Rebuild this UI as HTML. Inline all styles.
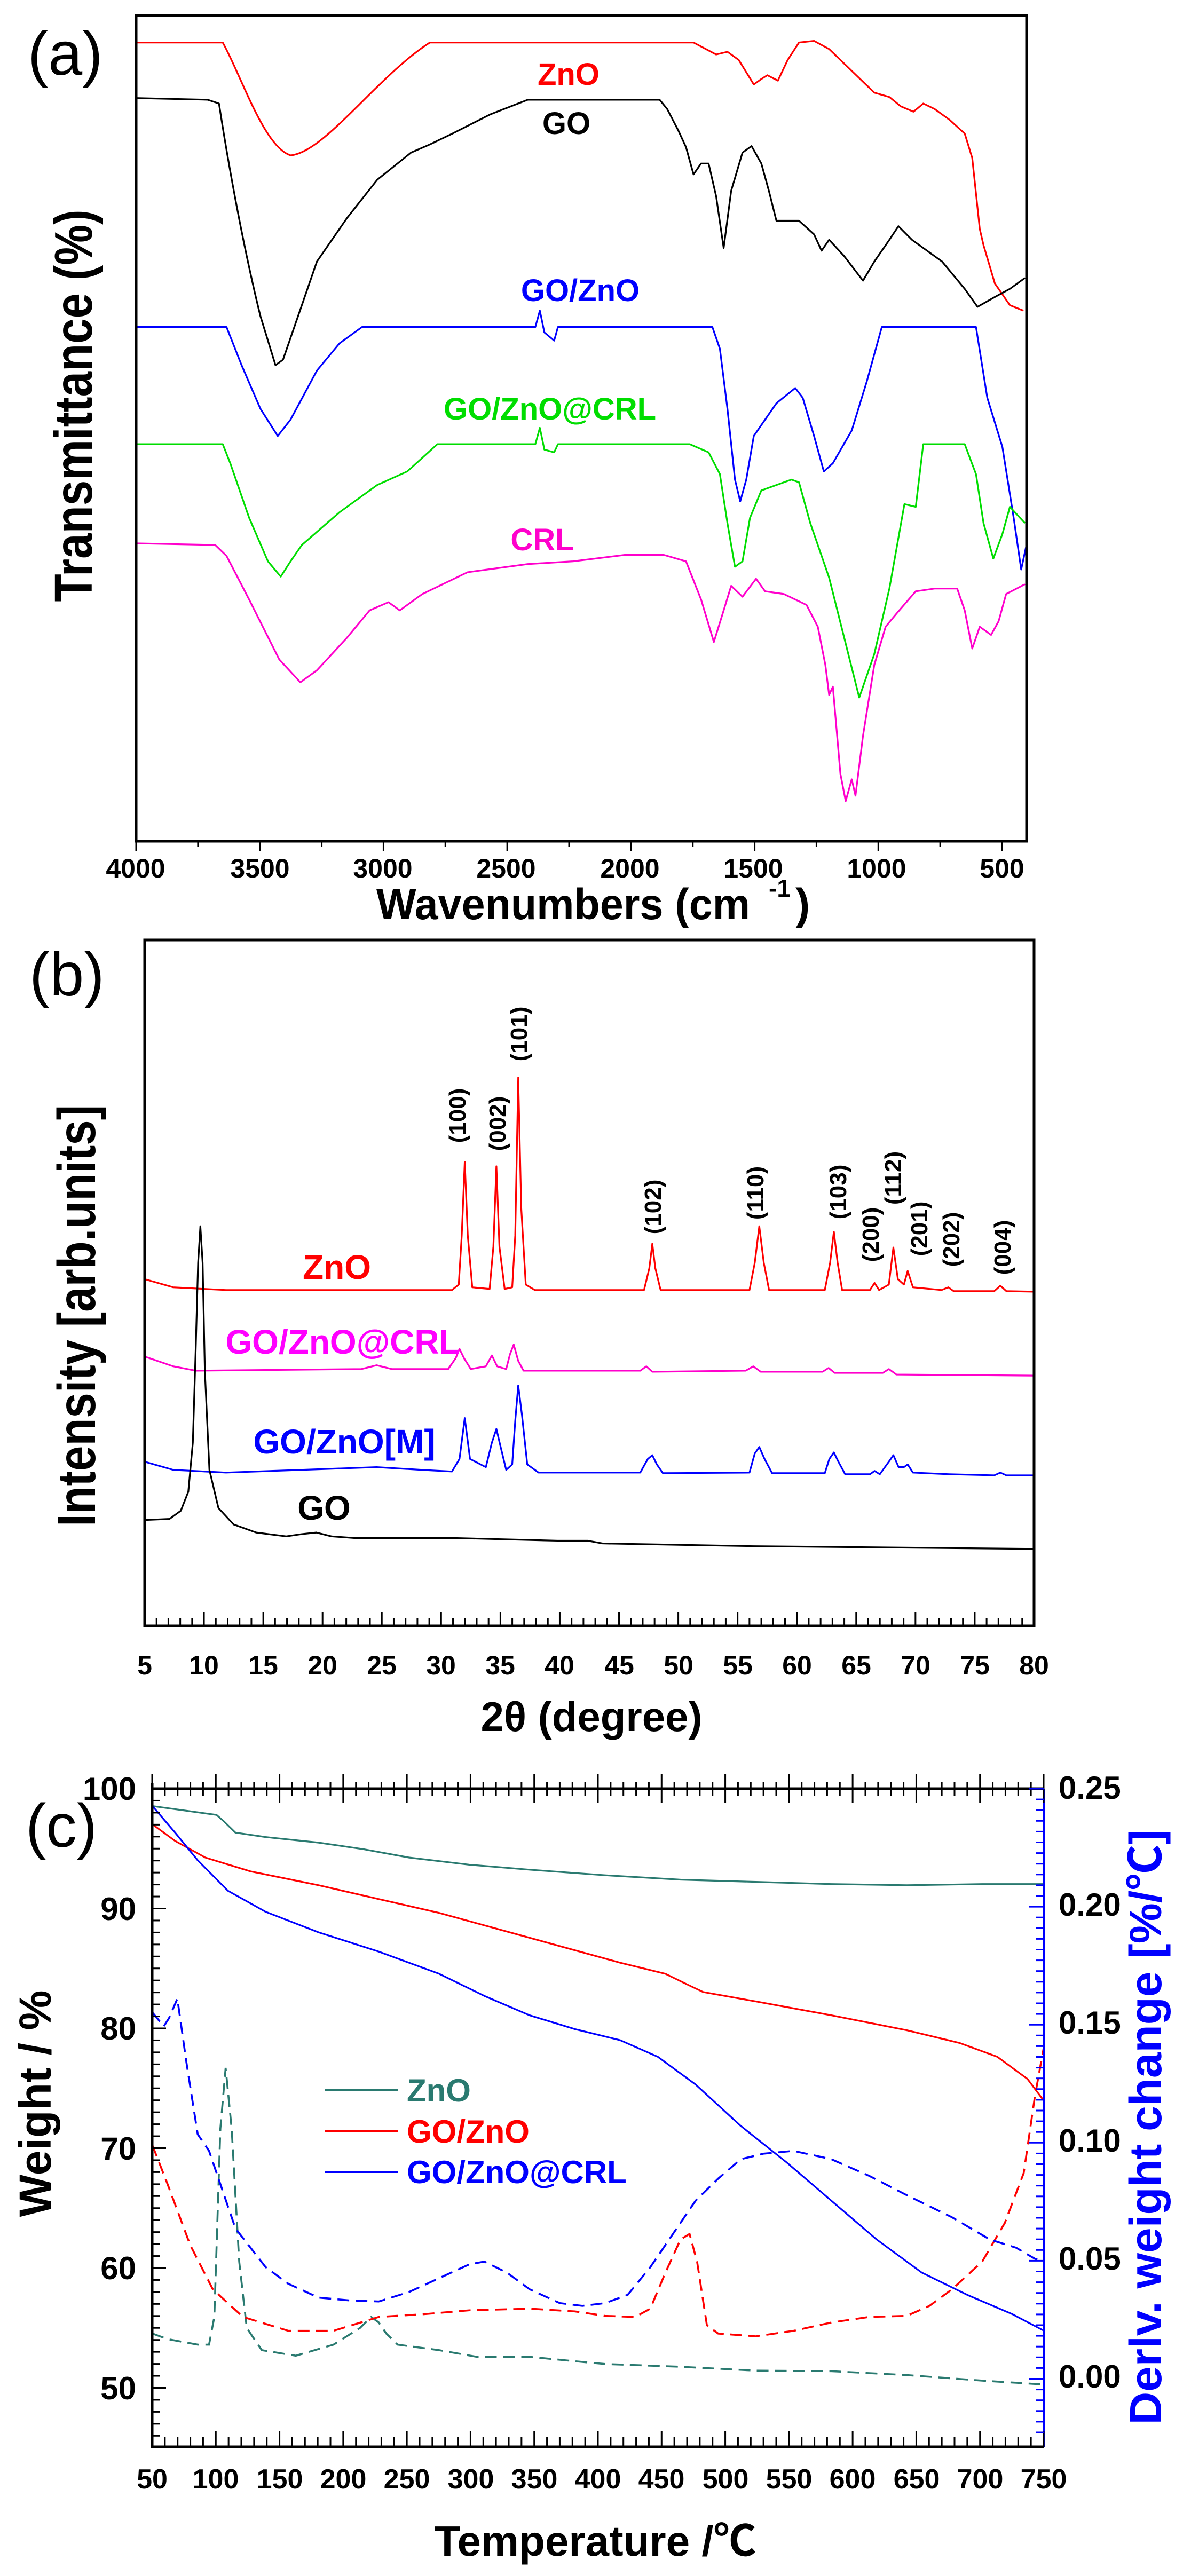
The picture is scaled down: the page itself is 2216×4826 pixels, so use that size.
<!DOCTYPE html>
<html><head><meta charset="utf-8"><style>
html,body{margin:0;padding:0;background:#fff;}
svg{display:block;font-family:"Liberation Sans","Noto Sans CJK SC",sans-serif;font-weight:bold;}
path.c{fill:none;stroke-width:3.2;vector-effect:non-scaling-stroke;stroke-linejoin:round;}
path.d{fill:none;stroke-width:3.6;vector-effect:non-scaling-stroke;stroke-dasharray:22 12;}
</style></head><body>
<svg id="s" width="2216" height="4826" viewBox="0 0 2216 4826" xmlns="http://www.w3.org/2000/svg">
<rect width="2216" height="4826" fill="#fff"/>
<!-- ================= PANEL A ================= -->
<text x="52" y="140" font-size="115" font-weight="normal">(a)</text>
<g transform="translate(1,0) scale(1.411,1.021)">
<path class="c" stroke="#ff0000" d="M180,78 L295,78 C320,140 350,270 385,285 C430,280 500,140 570,78 L920,78 L950,100 965,95 980,110 1000,155 1010,145 1018,138 1032,148 1045,110 1060,78 1080,75 1100,90 1130,130 1160,170 1180,178 1195,195 1212,205 1225,190 1240,200 1260,220 1280,245 1290,290 1300,420 1305,450 1320,520 1340,560 1358,570"/>
<path class="c" stroke="#000" d="M180,180 L275,183 L290,190 C300,280 320,440 345,580 L365,670 L375,660 L395,580 L420,480 L460,400 L500,330 L545,280 L570,265 L600,245 L650,210 L700,183 L875,183 L885,200 L900,240 L910,270 L920,320 L930,300 L940,300 L950,360 L960,455 L970,350 L985,280 L997,268 L1010,300 L1020,350 L1030,405 L1060,405 L1080,430 L1090,460 L1100,440 L1120,470 L1145,515 L1160,480 L1180,440 L1192,415 L1210,440 L1250,480 L1280,530 L1297,563 L1320,545 L1340,530 L1360,510"/>
<path class="c" stroke="#0000ff" d="M180,600 L300,600 L320,670 L345,750 L368,800 L385,770 L420,680 L450,630 L480,600 L710,600 L716,570 L722,610 L735,625 L740,600 L945,600 L955,640 L965,750 L975,880 L982,920 L990,880 L1000,800 L1030,740 L1055,712 L1065,730 L1080,800 L1093,865 L1105,850 L1130,790 L1150,700 L1170,600 L1295,600 L1310,730 L1330,820 L1345,950 L1355,1045 L1362,1000"/>
<path class="c" stroke="#00dd00" d="M180,815 L295,815 L305,850 L330,950 L355,1030 L372,1058 L385,1030 L400,1000 L450,940 L500,890 L540,865 L580,815 L710,815 L716,785 L722,825 L735,830 L740,815 L915,815 L940,830 L955,870 L965,960 L975,1040 L985,1030 L995,950 L1010,900 L1050,880 L1060,885 L1075,960 L1100,1060 L1120,1170 L1140,1280 L1160,1200 L1180,1080 L1200,925 L1215,930 L1225,815 L1280,815 L1295,870 L1305,960 L1318,1025 L1330,980 L1340,930 L1360,960"/>
<path class="c" stroke="#ff00cc" d="M180,997 L285,1000 L300,1020 L330,1100 L370,1210 L398,1252 L420,1230 L460,1170 L490,1120 L515,1105 L530,1120 L560,1090 L620,1050 L700,1035 L760,1030 L830,1018 L880,1018 L910,1030 L930,1100 L947,1178 L960,1120 L970,1075 L985,1095 L1003,1062 L1015,1085 L1040,1090 L1070,1110 L1085,1150 L1095,1220 L1100,1275 L1105,1260 L1115,1420 L1122,1470 L1130,1430 L1135,1460 L1145,1350 L1160,1220 L1175,1150 L1190,1125 L1215,1085 L1240,1080 L1270,1080 L1280,1120 L1290,1190 L1300,1150 L1315,1165 L1325,1140 L1335,1090 L1360,1072"/>
</g>
<rect x="255" y="29" width="1668" height="1547" fill="none" stroke="#000" stroke-width="5"/>
<g id="ta"></g>
<g font-size="50" text-anchor="middle">
<text x="254" y="1644">4000</text><text x="487" y="1644">3500</text><text x="717" y="1644">3000</text><text x="948" y="1644">2500</text><text x="1180" y="1644">2000</text><text x="1411" y="1644">1500</text><text x="1642" y="1644">1000</text><text x="1877" y="1644">500</text>
</g>
<text x="705" y="1722" font-size="82" textLength="700" lengthAdjust="spacingAndGlyphs">Wavenumbers (cm</text>
<text x="1440" y="1680" font-size="46">-1</text>
<text x="1490" y="1722" font-size="82">)</text>
<text transform="translate(172,760) rotate(-90)" text-anchor="middle" font-size="100" textLength="735" lengthAdjust="spacingAndGlyphs">Transmittance (%)</text>
<g font-size="58" text-anchor="middle">
<text x="1065" y="159" fill="#ff0000">ZnO</text>
<text x="1061" y="251" fill="#000">GO</text>
<text x="1087" y="564" fill="#0000ff">GO/ZnO</text>
<text x="1030" y="786" fill="#00dd00">GO/ZnO@CRL</text>
<text x="1016" y="1031" fill="#ff00cc">CRL</text>
</g>
<!-- ================= PANEL B ================= -->
<text x="55" y="1865" font-size="115" font-weight="normal">(b)</text>
<g transform="translate(0,1600) scale(1.411,1.021)">
<path class="c" stroke="#ff0000" d="M192,780 L230,795 L300,800 L600,800 L609,790 L613,700 L617,565 L621,700 L627,795 L650,798 L655,720 L659,573 L663,720 L670,798 L680,795 L684,700 L688,410 L692,650 L698,790 L710,800 L855,800 L862,760 L866,715 L870,760 L877,800 L995,800 L1002,750 L1008,683 L1014,750 L1021,800 L1095,800 L1102,750 L1107,693 L1112,750 L1118,800 L1155,800 L1161,787 L1167,800 L1180,790 L1186,722 L1192,780 L1200,790 L1205,765 L1212,795 L1250,800 L1259,795 L1266,802 L1320,802 L1328,792 L1336,802 L1373,803"/>
<path class="c" stroke="#ff00cc" d="M192,922 L230,940 L260,948 L480,945 L500,938 L520,945 L595,945 L605,925 L610,908 L616,925 L625,945 L645,940 L653,920 L660,940 L672,945 L677,918 L682,900 L688,930 L695,948 L850,948 L858,940 L866,950 L990,948 L1000,940 L1010,950 L1092,950 L1100,943 L1108,952 L1172,952 L1180,945 L1190,955 L1373,957"/>
<path class="c" stroke="#0000ff" d="M192,1115 L230,1130 L300,1135 L400,1130 L500,1125 L560,1130 L600,1133 L610,1110 L617,1035 L624,1110 L645,1125 L653,1080 L659,1055 L665,1090 L672,1130 L680,1120 L684,1040 L688,975 L693,1030 L700,1120 L715,1135 L850,1135 L860,1110 L866,1103 L872,1120 L880,1136 L995,1135 L1002,1100 L1008,1088 L1015,1110 L1025,1136 L1095,1136 L1101,1110 L1107,1098 L1113,1115 L1122,1138 L1155,1138 L1161,1132 L1168,1138 L1180,1115 L1186,1103 L1193,1125 L1200,1125 L1205,1120 L1212,1135 L1260,1138 L1320,1140 L1328,1135 L1336,1140 L1373,1140"/>
<path class="c" stroke="#000" d="M192,1222 L225,1220 L240,1205 L250,1170 L256,1080 L260,900 L263,750 L266,683 L269,750 L272,950 L278,1130 L290,1200 L310,1230 L340,1245 L380,1252 L400,1248 L420,1245 L440,1252 L470,1255 L600,1255 L740,1260 L780,1260 L800,1265 L1000,1270 L1373,1275"/>
</g>
<rect x="271" y="1761" width="1666" height="1285" fill="none" stroke="#000" stroke-width="5"/>
<g id="tb"></g>
<g font-size="50" text-anchor="middle">
<text x="271" y="3137">5</text><text x="382" y="3137">10</text><text x="493" y="3137">15</text><text x="604" y="3137">20</text><text x="715" y="3137">25</text><text x="826" y="3137">30</text><text x="937" y="3137">35</text><text x="1048" y="3137">40</text><text x="1160" y="3137">45</text><text x="1271" y="3137">50</text><text x="1382" y="3137">55</text><text x="1493" y="3137">60</text><text x="1604" y="3137">65</text><text x="1715" y="3137">70</text><text x="1826" y="3137">75</text><text x="1937" y="3137">80</text>
</g>
<text x="1108" y="3243" font-size="78" text-anchor="middle">2θ (degree)</text>
<text transform="translate(178,2465) rotate(-90)" text-anchor="middle" font-size="100" textLength="790" lengthAdjust="spacingAndGlyphs">Intensity [arb.units]</text>
<g font-size="64" text-anchor="middle">
<text x="631" y="2396" fill="#ff0000">ZnO</text>
<text x="642" y="2536" fill="#ff00ff">GO/ZnO@CRL</text>
<text x="645" y="2723" fill="#0000ff">GO/ZnO[M]</text>
<text x="607" y="2847" fill="#000">GO</text>
</g>
<g font-size="44" text-anchor="middle">
<text transform="translate(856,2090) rotate(-90)" dy="16">(100)</text>
<text transform="translate(931,2105) rotate(-90)" dy="16">(002)</text>
<text transform="translate(971,1937) rotate(-90)" dy="16">(101)</text>
<text transform="translate(1222,2261) rotate(-90)" dy="16">(102)</text>
<text transform="translate(1414,2235) rotate(-90)" dy="16">(110)</text>
<text transform="translate(1569,2233) rotate(-90)" dy="16">(103)</text>
<text transform="translate(1630,2313) rotate(-90)" dy="16">(200)</text>
<text transform="translate(1672,2207) rotate(-90)" dy="16">(112)</text>
<text transform="translate(1721,2302) rotate(-90)" dy="16">(201)</text>
<text transform="translate(1781,2322) rotate(-90)" dy="16">(202)</text>
<text transform="translate(1877,2337) rotate(-90)" dy="16">(004)</text>
</g>
<!-- ================= PANEL C ================= -->
<text x="48" y="3460" font-size="115" font-weight="normal">(c)</text>
<g transform="translate(3,3200) scale(1.413,1.037)">
<path class="c" stroke="#2a7a70" d="M200,177 L285,193 L295,205 L310,225 L350,233 L420,243 L480,255 L540,270 L620,283 L700,292 L800,302 L900,310 L1000,314 L1100,318 L1200,320 L1300,318 L1382,318"/>
<path class="c" stroke="#ff0000" d="M200,210 L230,240 L270,270 L330,295 L420,320 L500,345 L580,370 L660,400 L740,430 L820,460 L880,480 L910,500 L930,513 L1000,530 L1100,555 L1200,582 L1270,605 L1320,630 L1360,670 L1382,710"/>
<path class="c" stroke="#0000ff" d="M200,177 L230,225 L260,275 L300,330 L350,368 L420,405 L500,440 L580,480 L640,520 L700,555 L760,580 L820,600 L870,630 L920,680 L980,755 L1040,820 L1100,890 L1160,960 L1220,1020 L1280,1060 L1340,1095 L1382,1125"/>
<path class="d" stroke="#2a7a70" d="M200,1130 L220,1140 L260,1150 L275,1150 L282,1100 L290,760 L297,650 L305,760 L315,1000 L325,1120 L345,1160 L390,1170 L440,1150 L475,1120 L490,1100 L500,1110 L510,1130 L525,1150 L580,1160 L630,1172 L700,1172 L760,1180 L800,1185 L900,1190 L1000,1197 L1100,1198 L1200,1205 L1300,1215 L1382,1222"/>
<path class="d" stroke="#ff0000" d="M200,790 L220,860 L250,970 L280,1050 L320,1100 L380,1125 L440,1125 L500,1100 L560,1095 L620,1088 L700,1085 L760,1090 L800,1098 L840,1100 L860,1085 L880,1020 L900,960 L912,950 L922,1000 L935,1115 L950,1130 L1000,1135 L1050,1125 L1100,1110 L1150,1100 L1200,1098 L1230,1080 L1260,1050 L1300,1000 L1330,930 L1355,840 L1370,700 L1382,610"/>
<path class="d" stroke="#0000ff" d="M200,550 L215,575 L222,560 L233,525 L245,640 L260,770 L275,800 L290,860 L310,940 L350,1010 L380,1040 L420,1065 L460,1070 L500,1072 L540,1055 L580,1030 L620,1005 L640,1000 L670,1020 L700,1050 L740,1075 L770,1080 L800,1075 L830,1060 L860,1010 L890,950 L920,890 L950,850 L980,815 L1010,805 L1050,800 L1100,815 L1150,845 L1200,880 L1260,920 L1310,960 L1345,975 L1370,995 L1382,1000"/>
</g>
<line x1="285" y1="3340" x2="285" y2="4586" stroke="#000" stroke-width="5"/>
<line x1="285" y1="3351" x2="1955" y2="3351" stroke="#000" stroke-width="5"/>
<line x1="285" y1="4584" x2="1955" y2="4584" stroke="#000" stroke-width="5"/>
<line x1="1955" y1="3351" x2="1955" y2="4584" stroke="#0000ff" stroke-width="4"/>
<line x1="1955" y1="3325" x2="1955" y2="3351" stroke="#000" stroke-width="3"/>
<g id="tc"></g>
<g font-size="60" text-anchor="end">
<text x="255" y="3372">100</text><text x="255" y="3597">90</text><text x="255" y="3821">80</text><text x="255" y="4046">70</text><text x="255" y="4270">60</text><text x="255" y="4495">50</text>
</g>
<g font-size="60">
<text x="1983" y="3370">0.25</text><text x="1983" y="3589">0.20</text><text x="1983" y="3810">0.15</text><text x="1983" y="4031">0.10</text><text x="1983" y="4252">0.05</text><text x="1983" y="4473">0.00</text>
</g>
<g font-size="52" text-anchor="middle">
<text x="285" y="4662">50</text><text x="404" y="4662">100</text><text x="524" y="4662">150</text><text x="643" y="4662">200</text><text x="762" y="4662">250</text><text x="882" y="4662">300</text><text x="1001" y="4662">350</text><text x="1120" y="4662">400</text><text x="1239" y="4662">450</text><text x="1359" y="4662">500</text><text x="1478" y="4662">550</text><text x="1597" y="4662">600</text><text x="1717" y="4662">650</text><text x="1836" y="4662">700</text><text x="1955" y="4662">750</text>
</g>
<text x="1115" y="4788" font-size="80" text-anchor="middle">Temperature /℃</text>
<text transform="translate(65,3941) rotate(-90)" dy="30" text-anchor="middle" font-size="84" textLength="425" lengthAdjust="spacingAndGlyphs">Weight / %</text>
<text transform="translate(2145,3985) rotate(-90)" dy="30" text-anchor="middle" font-size="84" fill="#0000ff" textLength="1115" lengthAdjust="spacingAndGlyphs">Derlv. weight change [%/℃]</text>
<g stroke-width="4">
<line x1="608" y1="3916" x2="745" y2="3916" stroke="#2a7a70"/>
<line x1="608" y1="3993" x2="745" y2="3993" stroke="#ff0000"/>
<line x1="608" y1="4069" x2="745" y2="4069" stroke="#0000ff"/>
</g>
<g font-size="60">
<text x="762" y="3937" fill="#2a7a70">ZnO</text>
<text x="762" y="4014" fill="#ff0000">GO/ZnO</text>
<text x="762" y="4090" fill="#0000ff">GO/ZnO@CRL</text>
</g>
</svg>
<script>
(function(){
var NS="http://www.w3.org/2000/svg";
function L(g,x1,y1,x2,y2,c,w){var l=document.createElementNS(NS,"line");l.setAttribute("x1",x1);l.setAttribute("y1",y1);l.setAttribute("x2",x2);l.setAttribute("y2",y2);l.setAttribute("stroke",c||"#000");l.setAttribute("stroke-width",w||3);g.appendChild(l);}
var ga=document.getElementById("ta");
for(var i=0;i<=14;i++){var x=255+i*(1622/14);if(x>1923)break;var maj=i%2==0;L(ga,x,1576,x,maj?1594:1586);}
var gb=document.getElementById("tb");
for(var v=5;v<=80;v++){var x=271+(v-5)*22.213;var maj=v%5==0;L(gb,x,3046,x,maj?3020:3032);}
var gc=document.getElementById("tc");
for(var t=50;t<=750;t+=10){var x=285+(t-50)*(1670/700);var maj=t%50==0;
 L(gc,x,maj?3324:3338,x,maj?3378:3365);
 L(gc,x,4584,x,maj?4555:4566);}
for(var w=100;w>=46;w--){var y=3351+(100-w)*22.45;if(y>4584)break;var maj=w%10==0;L(gc,285,y,maj?311:300,y);}
for(var k=0;k<=60;k++){var y=3351+k*20.1;if(y>4584)break;L(gc,1955,y,k%11==0?1928:1940,y,"#0000ff",3);}
})();
</script>
</body></html>
